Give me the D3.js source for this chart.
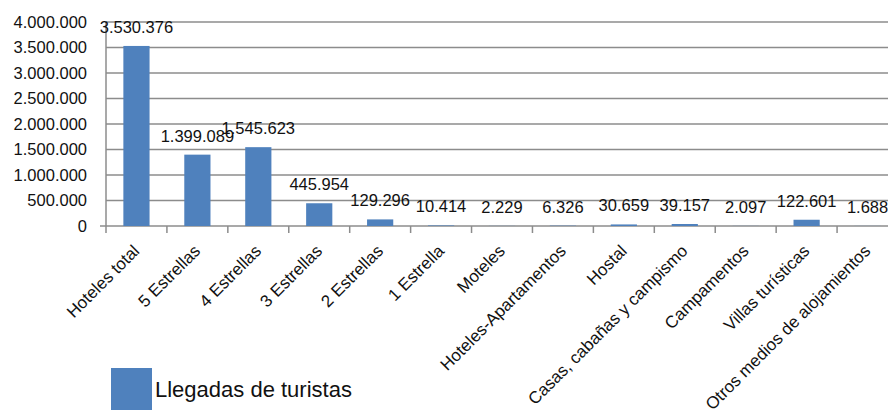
<!DOCTYPE html>
<head>
  <meta charset="utf-8">
  <title>Llegadas de turistas</title>
  <style>
    body { margin: 0; background: #fff; }
    text { font-family: "Liberation Sans", Arial, sans-serif; fill: #111; }
    .grid line { stroke: #8c8c8c; stroke-width: 1.5px; }
  </style>
</head>
<body>
  <div id="chart"></div>
  <script src="https://cdn.jsdelivr.net/npm/d3@7"></script>
  <script>
    var categorias = ["Hoteles total", "5 Estrellas", "4 Estrellas", "3 Estrellas", "2 Estrellas",
      "1 Estrella", "Moteles", "Hoteles-Apartamentos", "Hostal", "Casas, cabañas y campismo",
      "Campamentos", "Villas turísticas", "Otros medios de alojamientos"];
    var llegadas = [3530376, 1399089, 1545623, 445954, 129296, 10414, 2229, 6326, 30659, 39157, 2097, 122601, 1688];
    var yTicks = [0, 500000, 1000000, 1500000, 2000000, 2500000, 3000000, 3500000, 4000000];
    var serie = "Llegadas de turistas";

    var width = 888, height = 410;
    var m = { left: 106, right: 898, top: 22, bottom: 226 };

    var svg = d3.select("#chart").append("svg")
        .attr("width", width)
        .attr("height", height);

    var x = d3.scaleBand().domain(categorias).range([m.left, m.right])
        .paddingInner(0.57).paddingOuter(0.285);
    var y = d3.scaleLinear().domain([0, 4000000]).range([m.bottom, m.top]);

    // separador de miles con punto
    var fmt = d3.formatLocale({ decimal: ",", thousands: ".", grouping: [3], currency: ["", ""] }).format(",d");

    var grid = svg.append("g").attr("class", "grid");
    grid.selectAll("line").data(yTicks).enter().append("line")
        .attr("x1", function(d) { return d === 0 ? m.left - 6 : m.left; })
        .attr("x2", m.right)
        .attr("y1", function(d) { return y(d); })
        .attr("y2", function(d) { return y(d); });

    // eje y
    grid.append("line").attr("x1", m.left).attr("x2", m.left).attr("y1", m.top).attr("y2", m.bottom);

    // marcas del eje x entre categorías
    var step = x.step();
    var bordes = d3.range(categorias.length + 1).map(function(i) { return m.left + i * step; });
    grid.selectAll(".tk").data(bordes).enter().append("line")
        .attr("class", "tk")
        .attr("x1", function(d) { return d; }).attr("x2", function(d) { return d; })
        .attr("y1", m.bottom).attr("y2", m.bottom + 7);

    svg.append("g").selectAll("text").data(yTicks).enter().append("text")
        .attr("x", m.left - 19)
        .attr("y", function(d) { return y(d); })
        .attr("dy", "0.35em")
        .attr("text-anchor", "end")
        .style("font-size", "16.5px")
        .text(function(d) { return fmt(d); });

    svg.append("g").selectAll("rect").data(llegadas).enter().append("rect")
        .attr("x", function(d, i) { return x(categorias[i]); })
        .attr("width", x.bandwidth())
        .attr("y", function(d) { return y(d); })
        .attr("height", function(d) { return y(0) - y(d); })
        .attr("fill", "#4f81bd");

    svg.append("g").selectAll("text").data(llegadas).enter().append("text")
        .attr("x", function(d, i) { return x(categorias[i]) + x.bandwidth() / 2; })
        .attr("y", function(d) { return y(d) - 13; })
        .attr("text-anchor", "middle")
        .style("font-size", "16.5px")
        .text(function(d) { return fmt(d); });

    svg.append("g").selectAll("text").data(categorias).enter().append("text")
        .attr("transform", function(d) {
          return "translate(" + (x(d) + x.bandwidth() / 2 + 4) + "," + (m.bottom + 26) + ") rotate(-45)";
        })
        .attr("text-anchor", "end")
        .style("font-size", "17px")
        .text(function(d) { return d; });

    var leyenda = svg.append("g");
    leyenda.append("rect").attr("x", 111).attr("y", 368).attr("width", 41).attr("height", 42).attr("fill", "#4f81bd");
    leyenda.append("text").attr("x", 155).attr("y", 397).style("font-size", "22px").text(serie);
  </script>
</body>
